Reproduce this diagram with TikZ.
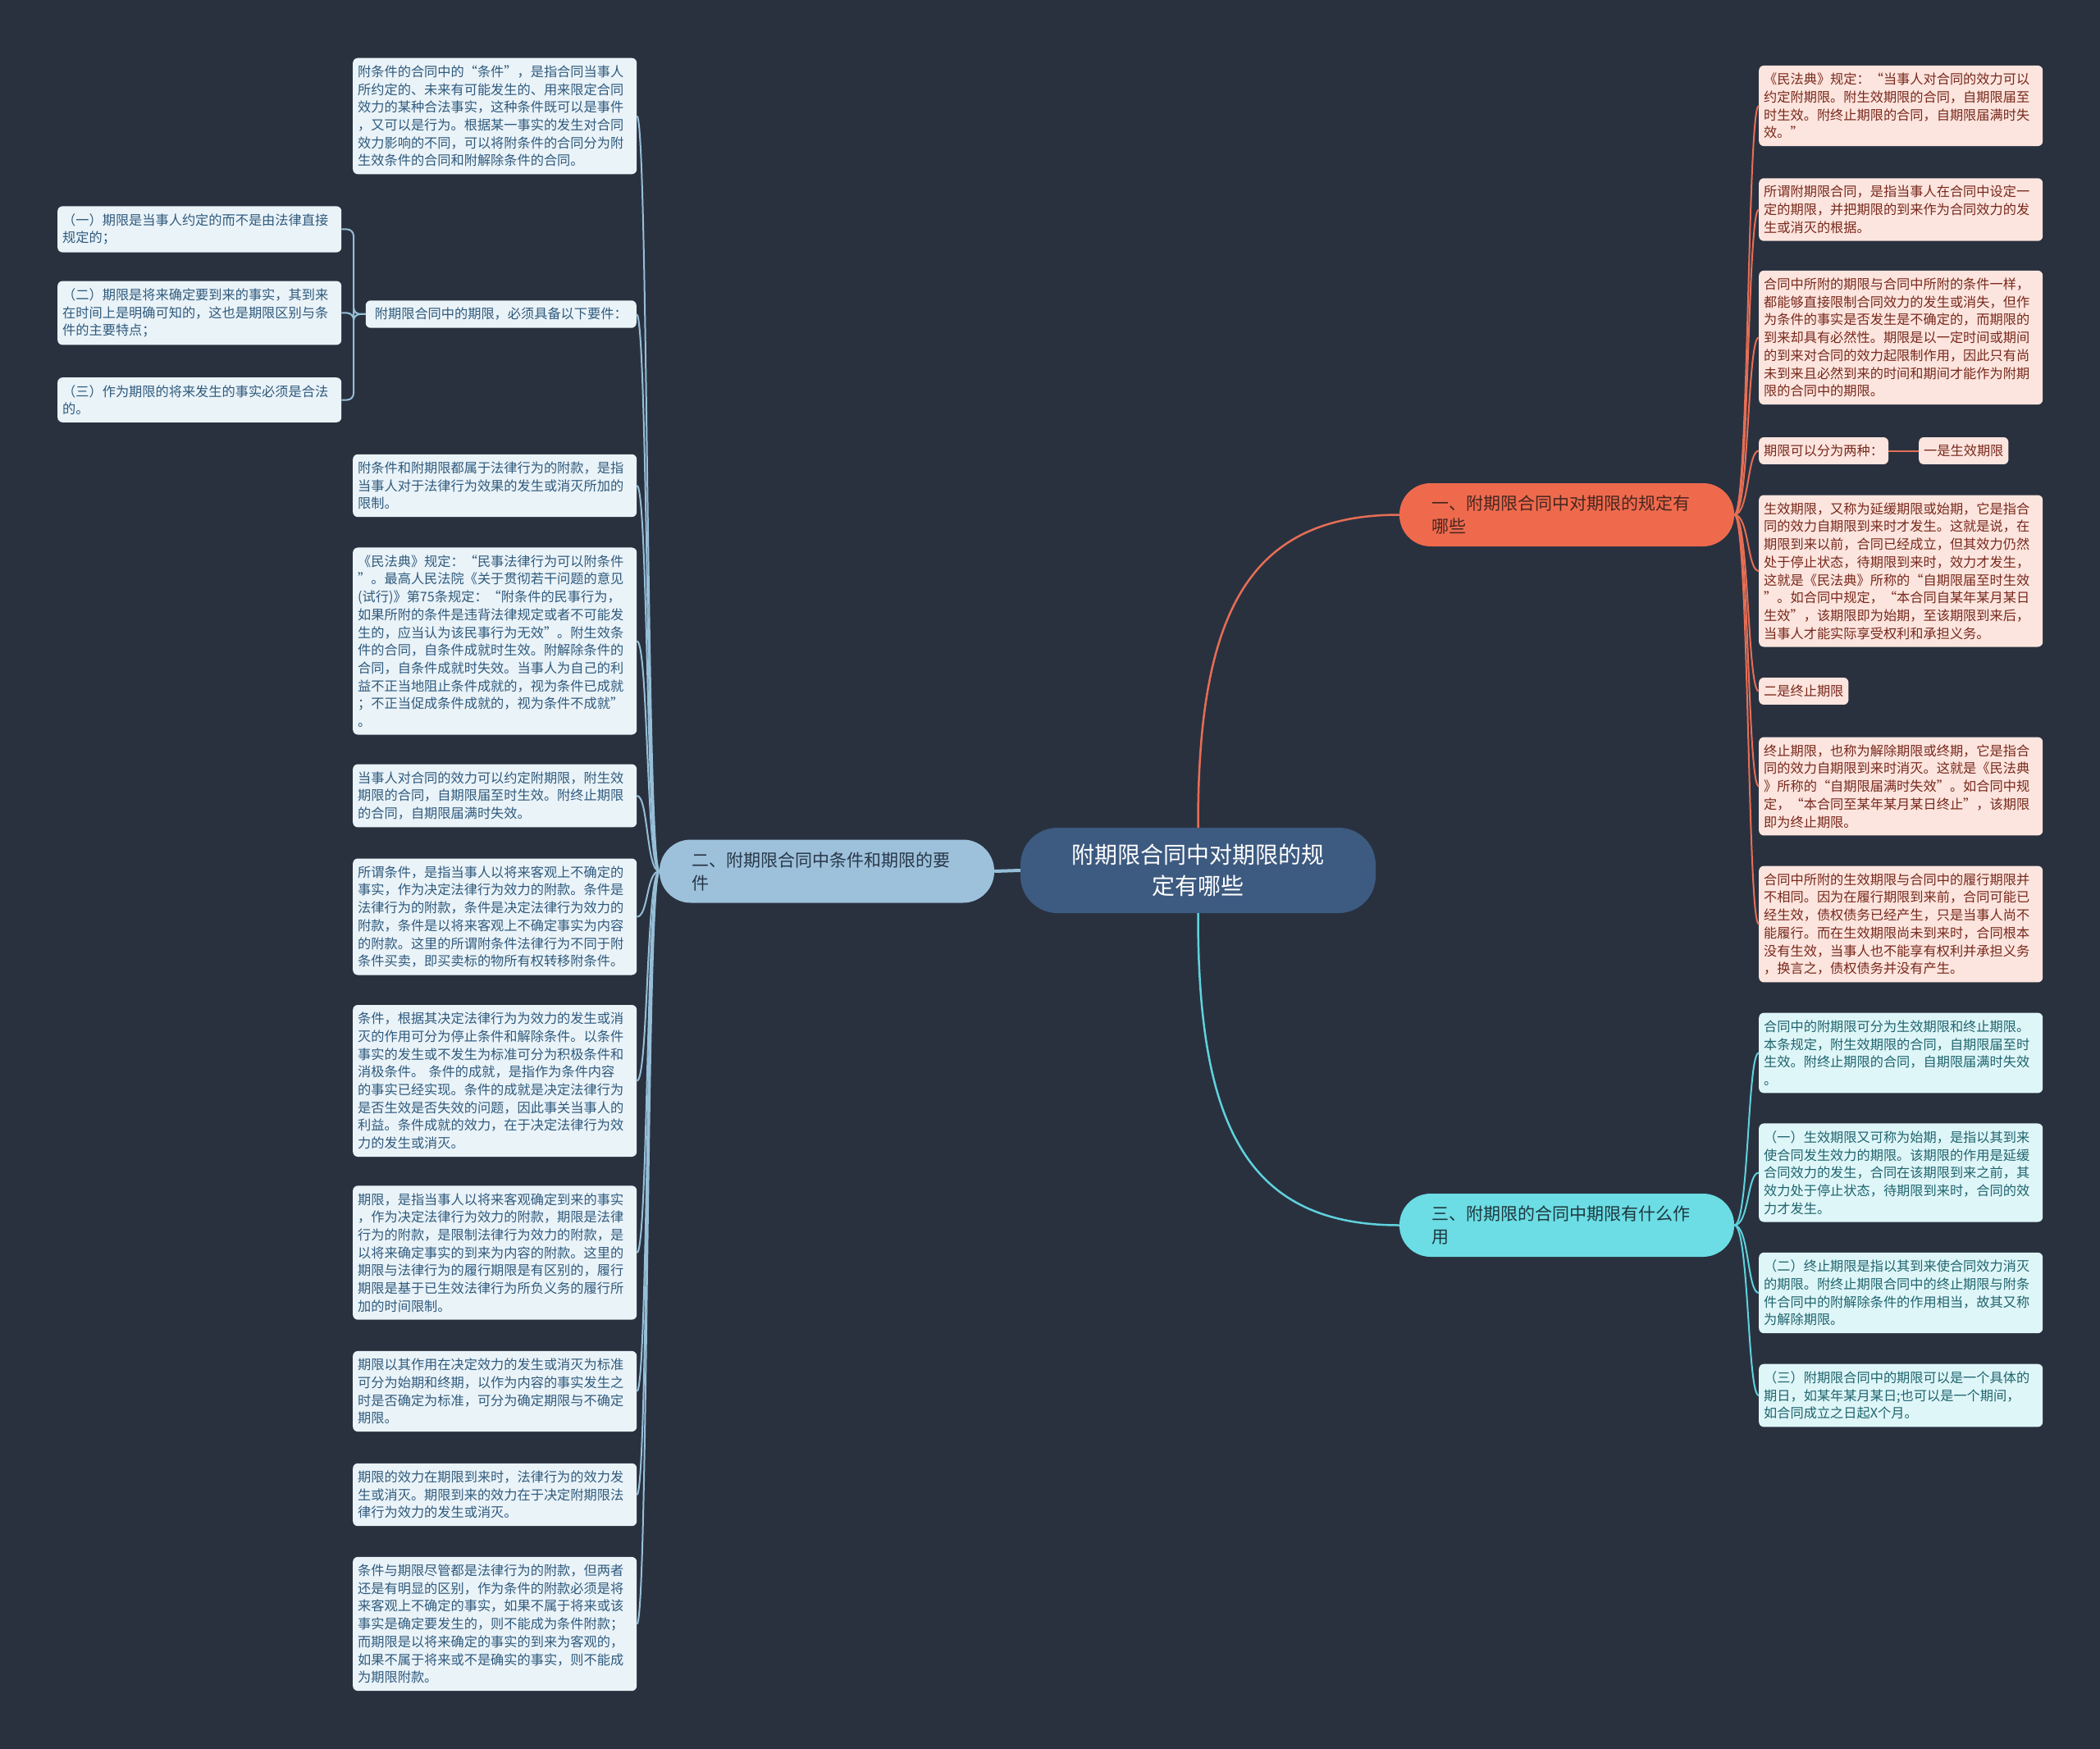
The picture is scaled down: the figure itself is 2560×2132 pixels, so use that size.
\documentclass[tikz,border=0pt]{standalone}
\usepackage{fontspec}
\setmainfont{Noto Sans CJK SC}
\usepackage{xcolor}
\usepackage{tikz}

\definecolor{bgcol}{RGB}{41,49,63}
\definecolor{rootfill}{RGB}{61,90,128}
\definecolor{rulefill}{RGB}{239,106,77}
\definecolor{ruleink}{RGB}{70,38,32}
\definecolor{rulecard}{RGB}{252,229,222}
\definecolor{rulecardink}{RGB}{120,40,28}
\definecolor{ruleline}{RGB}{230,110,85}
\definecolor{termfill}{RGB}{157,193,219}
\definecolor{termink}{RGB}{40,55,72}
\definecolor{termcard}{RGB}{234,243,248}
\definecolor{termcardink}{RGB}{47,90,125}
\definecolor{termline}{RGB}{150,190,215}
\definecolor{usefill}{RGB}{108,221,228}
\definecolor{useink}{RGB}{30,55,62}
\definecolor{usecard}{RGB}{223,246,248}
\definecolor{usecardink}{RGB}{30,100,110}
\definecolor{useline}{RGB}{95,210,220}

\begin{document}
\begin{tikzpicture}[
    x=1pt, y=-1pt,
    mainbox/.style={
        rectangle,
        rounded corners=45pt,
        fill=rootfill,
        text=white,
        minimum width=433pt,
        minimum height=104pt,
        align=center,
        font=\fontsize{28}{37.5}\selectfont
    },
    branch/.style={
        rectangle,
        rounded corners=38pt,
        text width=330pt,
        inner xsep=39pt,
        inner ysep=14pt,
        minimum height=77pt,
        align=left,
        font=\fontsize{21}{28}\selectfont
    },
    card/.style={
        rectangle,
        rounded corners=6pt,
        inner xsep=6pt,
        inner ysep=9pt,
        align=left,
        anchor=west,
        font=\fontsize{16.2}{21.7}\selectfont
    },
    leaf/.style={card, text width=334pt},
    rulebox/.style={fill=rulecard, text=rulecardink},
    termbox/.style={fill=termcard, text=termcardink},
    usebox/.style={fill=usecard, text=usecardink},
    redline/.style={draw=ruleline, line width=2pt},
    blueline/.style={draw=termline, line width=2pt},
    cyanline/.style={draw=useline, line width=2pt}
]

\fill[bgcol] (0,0) rectangle (2560,2132);
\useasboundingbox (0,0) rectangle (2560,2132);

% Centre and main branches
\node[mainbox] (root) at (1460.5,1061) {附期限合同中对期限的规\\定有哪些};
\node[branch, fill=rulefill, text=ruleink] (rules) at (1910,627.5) {一、附期限合同中对期限的规定有\\哪些};
\node[branch, fill=termfill, text=termink] (terms) at (1008,1062) {二、附期限合同中条件和期限的要\\件};
\node[branch, fill=usefill, text=useink] (uses) at (1910,1493.5) {三、附期限的合同中期限有什么作\\用};

% Branch one (right, top)
\node[leaf, rulebox] (r1) at (2144,129) {《民法典》规定：“当事人对合同的效力可以\\约定附期限。附生效期限的合同，自期限届至\\时生效。附终止期限的合同，自期限届满时失\\效。”};
\node[leaf, rulebox] (r2) at (2144,255.5) {所谓附期限合同，是指当事人在合同中设定一\\定的期限，并把期限的到来作为合同效力的发\\生或消灭的根据。};
\node[leaf, rulebox] (r3) at (2144,411.5) {合同中所附的期限与合同中所附的条件一样，\\都能够直接限制合同效力的发生或消失，但作\\为条件的事实是否发生是不确定的，而期限的\\到来却具有必然性。期限是以一定时间或期间\\的到来对合同的效力起限制作用，因此只有尚\\未到来且必然到来的时间和期间才能作为附期\\限的合同中的期限。};
\node[card, rulebox] (r4) at (2144,549.5) {期限可以分为两种：};
\node[card, rulebox] (r4a) at (2339,549.5) {一是生效期限};
\node[leaf, rulebox] (r5) at (2144,696) {生效期限，又称为延缓期限或始期，它是指合\\同的效力自期限到来时才发生。这就是说，在\\期限到来以前，合同已经成立，但其效力仍然\\处于停止状态，待期限到来时，效力才发生，\\这就是《民法典》所称的“自期限届至时生效\\”。如合同中规定，“本合同自某年某月某日\\生效”，该期限即为始期，至该期限到来后，\\当事人才能实际享受权利和承担义务。};
\node[card, rulebox] (r6) at (2144,842.5) {二是终止期限};
\node[leaf, rulebox] (r7) at (2144,958.5) {终止期限，也称为解除期限或终期，它是指合\\同的效力自期限到来时消灭。这就是《民法典\\》所称的“自期限届满时失效”。如合同中规\\定，“本合同至某年某月某日终止”，该期限\\即为终止期限。};
\node[leaf, rulebox] (r8) at (2144,1126.5) {合同中所附的生效期限与合同中的履行期限并\\不相同。因为在履行期限到来前，合同可能已\\经生效，债权债务已经产生，只是当事人尚不\\能履行。而在生效期限尚未到来时，合同根本\\没有生效，当事人也不能享有权利并承担义务\\，换言之，债权债务并没有产生。};

% Branch three (right, bottom)
\node[leaf, usebox] (e1) at (2144,1283.5) {合同中的附期限可分为生效期限和终止期限。\\本条规定，附生效期限的合同，自期限届至时\\生效。附终止期限的合同，自期限届满时失效\\。};
\node[leaf, usebox] (e2) at (2144,1429.5) {（一）生效期限又可称为始期，是指以其到来\\使合同发生效力的期限。该期限的作用是延缓\\合同效力的发生，合同在该期限到来之前，其\\效力处于停止状态，待期限到来时，合同的效\\力才发生。};
\node[leaf, usebox] (e3) at (2144,1576) {（二）终止期限是指以其到来使合同效力消灭\\的期限。附终止期限合同中的终止期限与附条\\件合同中的附解除条件的作用相当，故其又称\\为解除期限。};
\node[leaf, usebox] (e4) at (2144,1701) {（三）附期限合同中的期限可以是一个具体的\\期日，如某年某月某日;也可以是一个期间，\\如合同成立之日起X个月。};

% Branch two (left)
\node[leaf, termbox] (p1) at (430,141.5) {附条件的合同中的“条件”，是指合同当事人\\所约定的、未来有可能发生的、用来限定合同\\效力的某种合法事实，这种条件既可以是事件\\，又可以是行为。根据某一事实的发生对合同\\效力影响的不同，可以将附条件的合同分为附\\生效条件的合同和附解除条件的合同。};
\node[card, termbox, anchor=east, minimum width=330pt] (req) at (776,383) {附期限合同中的期限，必须具备以下要件：};
\node[leaf, termbox] (s1) at (70,279.5) {（一）期限是当事人约定的而不是由法律直接\\规定的；};
\node[leaf, termbox] (s2) at (70,381.5) {（二）期限是将来确定要到来的事实，其到来\\在时间上是明确可知的，这也是期限区别与条\\件的主要特点；};
\node[leaf, termbox] (s3) at (70,487.5) {（三）作为期限的将来发生的事实必须是合法\\的。};
\node[leaf, termbox] (p2) at (430,592) {附条件和附期限都属于法律行为的附款，是指\\当事人对于法律行为效果的发生或消灭所加的\\限制。};
\node[leaf, termbox] (p3) at (430,781.5) {《民法典》规定：“民事法律行为可以附条件\\”。最高人民法院《关于贯彻若干问题的意见\\(试行)》第75条规定：“附条件的民事行为，\\如果所附的条件是违背法律规定或者不可能发\\生的，应当认为该民事行为无效”。附生效条\\件的合同，自条件成就时生效。附解除条件的\\合同，自条件成就时失效。当事人为自己的利\\益不正当地阻止条件成就的，视为条件已成就\\；不正当促成条件成就的，视为条件不成就”\\。};
\node[leaf, termbox] (p4) at (430,970) {当事人对合同的效力可以约定附期限，附生效\\期限的合同，自期限届至时生效。附终止期限\\的合同，自期限届满时失效。};
\node[leaf, termbox] (p5) at (430,1117.5) {所谓条件，是指当事人以将来客观上不确定的\\事实，作为决定法律行为效力的附款。条件是\\法律行为的附款，条件是决定法律行为效力的\\附款，条件是以将来客观上不确定事实为内容\\的附款。这里的所谓附条件法律行为不同于附\\条件买卖，即买卖标的物所有权转移附条件。};
\node[leaf, termbox] (p6) at (430,1317.5) {条件，根据其决定法律行为为效力的发生或消\\灭的作用可分为停止条件和解除条件。以条件\\事实的发生或不发生为标准可分为积极条件和\\消极条件。 条件的成就，是指作为条件内容\\的事实已经实现。条件的成就是决定法律行为\\是否生效是否失效的问题，因此事关当事人的\\利益。条件成就的效力，在于决定法律行为效\\力的发生或消灭。};
\node[leaf, termbox] (p7) at (430,1527) {期限，是指当事人以将来客观确定到来的事实\\，作为决定法律行为效力的附款，期限是法律\\行为的附款，是限制法律行为效力的附款，是\\以将来确定事实的到来为内容的附款。这里的\\期限与法律行为的履行期限是有区别的，履行\\期限是基于已生效法律行为所负义务的履行所\\加的时间限制。};
\node[leaf, termbox] (p8) at (430,1696) {期限以其作用在决定效力的发生或消灭为标准\\可分为始期和终期，以作为内容的事实发生之\\时是否确定为标准，可分为确定期限与不确定\\期限。};
\node[leaf, termbox] (p9) at (430,1822) {期限的效力在期限到来时，法律行为的效力发\\生或消灭。期限到来的效力在于决定附期限法\\律行为效力的发生或消灭。};
\node[leaf, termbox] (p10) at (430,1979.5) {条件与期限尽管都是法律行为的附款，但两者\\还是有明显的区别，作为条件的附款必须是将\\来客观上不确定的事实，如果不属于将来或该\\事实是确定要发生的，则不能成为条件附款；\\而期限是以将来确定的事实的到来为客观的，\\如果不属于将来或不是确实的事实，则不能成\\为期限附款。};

% Connectors from the centre
\draw[redline, line width=2.5pt] (root.north) .. controls (1460,750) and (1520,627.5) .. (rules.west);
\draw[cyanline, line width=2.5pt] (root.south) .. controls (1460,1372) and (1520,1493.5) .. (uses.west);
\draw[blueline, line width=4pt] (root.west) -- (terms.east);

% Branch one links
\draw[redline] (rules.east) .. controls +(18,0) and +(-14,0) .. (r1.west);
\draw[redline] (rules.east) .. controls +(18,0) and +(-14,0) .. (r2.west);
\draw[redline] (rules.east) .. controls +(18,0) and +(-14,0) .. (r3.west);
\draw[redline] (rules.east) .. controls +(18,0) and +(-14,0) .. (r4.west);
\draw[redline] (rules.east) .. controls +(18,0) and +(-14,0) .. (r5.west);
\draw[redline] (rules.east) .. controls +(18,0) and +(-14,0) .. (r6.west);
\draw[redline] (rules.east) .. controls +(18,0) and +(-14,0) .. (r7.west);
\draw[redline] (rules.east) .. controls +(18,0) and +(-14,0) .. (r8.west);
\draw[redline] (r4.east) -- (r4a.west);

% Branch three links
\draw[cyanline] (uses.east) .. controls +(18,0) and +(-14,0) .. (e1.west);
\draw[cyanline] (uses.east) .. controls +(18,0) and +(-14,0) .. (e2.west);
\draw[cyanline] (uses.east) .. controls +(18,0) and +(-14,0) .. (e3.west);
\draw[cyanline] (uses.east) .. controls +(18,0) and +(-14,0) .. (e4.west);

% Branch two links
\draw[blueline] (terms.west) .. controls +(-16,0) and +(14,0) .. (p1.east);
\draw[blueline] (terms.west) .. controls +(-16,0) and +(14,0) .. (req.east);
\draw[blueline] (terms.west) .. controls +(-16,0) and +(14,0) .. (p2.east);
\draw[blueline] (terms.west) .. controls +(-16,0) and +(14,0) .. (p3.east);
\draw[blueline] (terms.west) .. controls +(-16,0) and +(14,0) .. (p4.east);
\draw[blueline] (terms.west) .. controls +(-16,0) and +(14,0) .. (p5.east);
\draw[blueline] (terms.west) .. controls +(-16,0) and +(14,0) .. (p6.east);
\draw[blueline] (terms.west) .. controls +(-16,0) and +(14,0) .. (p7.east);
\draw[blueline] (terms.west) .. controls +(-16,0) and +(14,0) .. (p8.east);
\draw[blueline] (terms.west) .. controls +(-16,0) and +(14,0) .. (p9.east);
\draw[blueline] (terms.west) .. controls +(-16,0) and +(14,0) .. (p10.east);

% Requirement bracket
\coordinate (fork) at (431,383);
\draw[blueline, rounded corners=8pt] (req.west) -- (fork) |- (s1.east);
\draw[blueline, rounded corners=8pt] (req.west) -- (fork) |- (s2.east);
\draw[blueline, rounded corners=8pt] (req.west) -- (fork) |- (s3.east);

\end{tikzpicture}
\end{document}
